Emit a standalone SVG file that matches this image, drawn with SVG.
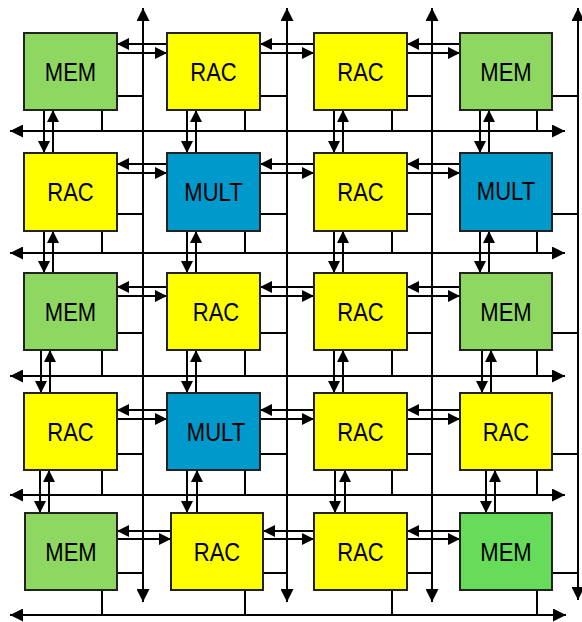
<svg xmlns="http://www.w3.org/2000/svg" width="582" height="622" viewBox="0 0 582 622">
<style>
.box{stroke:#222;stroke-width:2}
.mem{fill:#8ed760}
.mem2{fill:#66dc5a}
.rac{fill:#ffff00}
.mult{fill:#0099cc}
.lbl{font-family:"Liberation Sans",Arial,sans-serif;font-size:22px;fill:#000;text-anchor:middle}
.c{stroke:#000;stroke-width:2;fill:none}
.ah{marker-end:url(#sm)}
.bus{marker-start:url(#big);marker-end:url(#big)}
</style>
<defs>
<marker id="sm" viewBox="0 0 12 12" refX="12" refY="6" markerWidth="12" markerHeight="12" markerUnits="userSpaceOnUse" orient="auto"><path d="M0,0 L12,6 L0,12 z" fill="#000"/></marker>
<marker id="big" viewBox="0 0 13 13" refX="13" refY="6.5" markerWidth="13" markerHeight="13" markerUnits="userSpaceOnUse" orient="auto-start-reverse"><path d="M0,0 L13,6.5 L0,13 z" fill="#000"/></marker>
</defs>
<rect width="582" height="622" fill="#fff"/>
<g id="connectors">
<path class="c bus" d="M143,602 V8"/>
<path class="c bus" d="M287,602 V8"/>
<path class="c bus" d="M432,602 V8"/>
<path class="c bus" d="M578,600 V8"/>
<path class="c bus" d="M10,131 H565"/>
<path class="c bus" d="M10,253 H565"/>
<path class="c bus" d="M10,376 H565"/>
<path class="c bus" d="M10,495 H565"/>
<path class="c bus" d="M10,615 H566"/>
<path class="c" d="M117,96 H143 M260,96 H287 M407,96 H432 M552,96 H578"/>
<path class="c" d="M117,214 H143 M260,214 H287 M407,214 H432 M552,214 H578"/>
<path class="c" d="M117,333 H143 M260,333 H287 M407,333 H432 M552,333 H578"/>
<path class="c" d="M117,454 H143 M260,454 H287 M407,454 H432 M552,454 H578"/>
<path class="c" d="M117,573 H143 M260,573 H287 M407,573 H432 M552,573 H578"/>
<path class="c" d="M102,110 V131 M245,110 V131 M392,110 V131 M537,110 V131"/>
<path class="c" d="M102,231 V253 M245,231 V253 M392,231 V253 M537,231 V253"/>
<path class="c" d="M102,350 V376 M245,350 V376 M392,350 V376 M537,350 V376"/>
<path class="c" d="M102,470 V495 M245,470 V495 M392,470 V495 M537,470 V495"/>
<path class="c" d="M102,590 V615 M245,590 V615 M392,590 V615 M537,590 V615"/>
<path class="c ah" d="M167,44 H117"/><path class="c ah" d="M117,53 H167"/>
<path class="c ah" d="M314,44 H260"/><path class="c ah" d="M260,53 H314"/>
<path class="c ah" d="M460,44 H407"/><path class="c ah" d="M407,53 H460"/>
<path class="c ah" d="M167,164 H117"/><path class="c ah" d="M117,173 H167"/>
<path class="c ah" d="M314,164 H260"/><path class="c ah" d="M260,173 H314"/>
<path class="c ah" d="M460,164 H407"/><path class="c ah" d="M407,173 H460"/>
<path class="c ah" d="M167,287 H117"/><path class="c ah" d="M117,296 H167"/>
<path class="c ah" d="M314,287 H260"/><path class="c ah" d="M260,296 H314"/>
<path class="c ah" d="M460,287 H407"/><path class="c ah" d="M407,296 H460"/>
<path class="c ah" d="M167,410 H117"/><path class="c ah" d="M117,419 H167"/>
<path class="c ah" d="M314,410 H260"/><path class="c ah" d="M260,419 H314"/>
<path class="c ah" d="M460,410 H407"/><path class="c ah" d="M407,419 H460"/>
<path class="c ah" d="M171,531 H117"/><path class="c ah" d="M117,539 H171"/>
<path class="c ah" d="M314,531 H263"/><path class="c ah" d="M263,539 H314"/>
<path class="c ah" d="M460,531 H407"/><path class="c ah" d="M407,539 H460"/>
<path class="c ah" d="M44,110 V153"/><path class="c ah" d="M53,153 V110"/>
<path class="c ah" d="M187,110 V153"/><path class="c ah" d="M196,153 V110"/>
<path class="c ah" d="M334,110 V153"/><path class="c ah" d="M343,153 V110"/>
<path class="c ah" d="M480,110 V153"/><path class="c ah" d="M489,153 V110"/>
<path class="c ah" d="M44,231 V273"/><path class="c ah" d="M53,273 V231"/>
<path class="c ah" d="M187,231 V273"/><path class="c ah" d="M196,273 V231"/>
<path class="c ah" d="M334,231 V273"/><path class="c ah" d="M343,273 V231"/>
<path class="c ah" d="M480,231 V273"/><path class="c ah" d="M489,273 V231"/>
<path class="c ah" d="M41,350 V393"/><path class="c ah" d="M50,393 V350"/>
<path class="c ah" d="M187,350 V393"/><path class="c ah" d="M196,393 V350"/>
<path class="c ah" d="M334,350 V393"/><path class="c ah" d="M343,393 V350"/>
<path class="c ah" d="M482,350 V393"/><path class="c ah" d="M491,393 V350"/>
<path class="c ah" d="M40,470 V513"/><path class="c ah" d="M49,513 V470"/>
<path class="c ah" d="M187,470 V513"/><path class="c ah" d="M197,513 V470"/>
<path class="c ah" d="M335,470 V513"/><path class="c ah" d="M345,513 V470"/>
<path class="c ah" d="M486,470 V513"/><path class="c ah" d="M495,513 V470"/>
</g>
<g id="n00"><rect class="box mem" x="24" y="33" width="93" height="77"/><text class="lbl" transform="translate(70.5,81) scale(1,1.13)">MEM</text></g>
<g id="n01"><rect class="box rac" x="167" y="33" width="93" height="77"/><text class="lbl" transform="translate(213.5,81) scale(1,1.13)">RAC</text></g>
<g id="n02"><rect class="box rac" x="314" y="33" width="93" height="77"/><text class="lbl" transform="translate(360.5,81) scale(1,1.13)">RAC</text></g>
<g id="n03"><rect class="box mem" x="460" y="33" width="92" height="77"/><text class="lbl" transform="translate(506,81) scale(1,1.13)">MEM</text></g>
<g id="n10"><rect class="box rac" x="24" y="153" width="93" height="78"/><text class="lbl" transform="translate(70.5,201) scale(1,1.13)">RAC</text></g>
<g id="n11"><rect class="box mult" x="167" y="153" width="93" height="78"/><text class="lbl" transform="translate(213.5,201) scale(1,1.13)">MULT</text></g>
<g id="n12"><rect class="box rac" x="314" y="153" width="93" height="78"/><text class="lbl" transform="translate(360.5,201) scale(1,1.13)">RAC</text></g>
<g id="n13"><rect class="box mult" x="460" y="153" width="92" height="78"/><text class="lbl" transform="translate(506,200) scale(1,1.13)">MULT</text></g>
<g id="n20"><rect class="box mem" x="24" y="273" width="93" height="77"/><text class="lbl" transform="translate(70.5,321) scale(1,1.13)">MEM</text></g>
<g id="n21"><rect class="box rac" x="167" y="273" width="93" height="77"/><text class="lbl" transform="translate(216,321) scale(1,1.13)">RAC</text></g>
<g id="n22"><rect class="box rac" x="314" y="273" width="93" height="77"/><text class="lbl" transform="translate(360.5,321) scale(1,1.13)">RAC</text></g>
<g id="n23"><rect class="box mem" x="460" y="273" width="92" height="77"/><text class="lbl" transform="translate(506,321) scale(1,1.13)">MEM</text></g>
<g id="n30"><rect class="box rac" x="24" y="393" width="93" height="77"/><text class="lbl" transform="translate(70.5,441) scale(1,1.13)">RAC</text></g>
<g id="n31"><rect class="box mult" x="167" y="393" width="93" height="77"/><text class="lbl" transform="translate(216,441) scale(1,1.13)">MULT</text></g>
<g id="n32"><rect class="box rac" x="314" y="393" width="93" height="77"/><text class="lbl" transform="translate(360.5,441) scale(1,1.13)">RAC</text></g>
<g id="n33"><rect class="box rac" x="460" y="393" width="92" height="77"/><text class="lbl" transform="translate(506,441) scale(1,1.13)">RAC</text></g>
<g id="n40"><rect class="box mem" x="25" y="513" width="92" height="77"/><text class="lbl" transform="translate(71,561) scale(1,1.13)">MEM</text></g>
<g id="n41"><rect class="box rac" x="171" y="513" width="92" height="77"/><text class="lbl" transform="translate(217,561) scale(1,1.13)">RAC</text></g>
<g id="n42"><rect class="box rac" x="314" y="513" width="93" height="77"/><text class="lbl" transform="translate(360.5,561) scale(1,1.13)">RAC</text></g>
<g id="n43"><rect class="box mem2" x="460" y="513" width="92" height="77"/><text class="lbl" transform="translate(506,561) scale(1,1.13)">MEM</text></g>
</svg>
